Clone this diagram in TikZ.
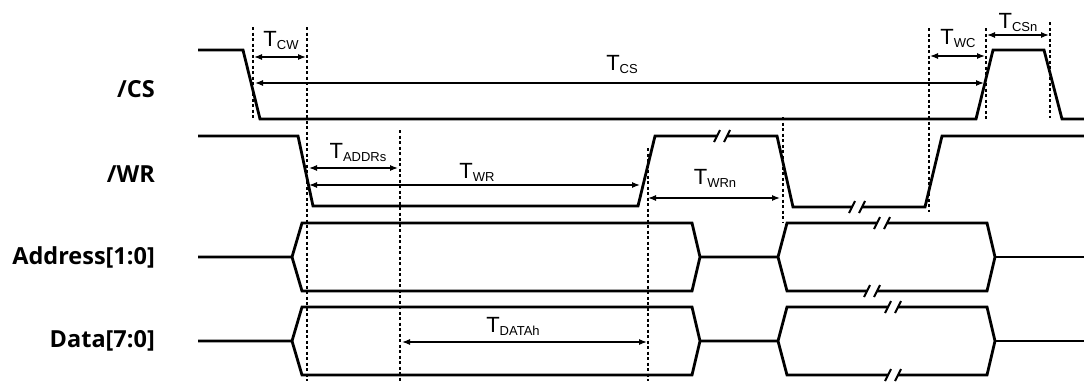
\documentclass[tikz,border=0pt]{standalone}
\usepackage{fontspec}
\setmainfont{Liberation Sans}
\newfontfamily\signame{Open Sans}
\usepackage{tikz}
\usetikzlibrary{arrows,arrows.meta,positioning}
\tikzstyle{sig} = [draw, line width=2.8pt, line join=miter]
\tikzstyle{dim} = [draw, {Latex[length=8pt,width=6pt]}-{Latex[length=8pt,width=6pt]}, line width=1.2pt]
\tikzstyle{guide} = [draw, line width=1.3pt, dash pattern=on 3pt off 2.5pt]
\tikzstyle{sname} = [anchor=east, inner sep=0pt, font=\signame\bfseries\fontsize{23.5}{24}\selectfont]
\tikzstyle{tlbl} = [inner sep=0pt, font=\fontsize{22}{22}\selectfont]
\newcommand{\tsb}[1]{T\raisebox{-3pt}{\fontsize{13}{13}\selectfont #1}}
\newcommand{\sigbreak}[2]{%
  \fill[white] (#1-5,#2-4) rectangle (#1+5,#2+4);
  \draw[line width=2pt] (#1-8,#2+6) -- (#1-2,#2-6);
  \draw[line width=2pt] (#1+2,#2+6) -- (#1+8,#2-6);}

\begin{document}
\begin{tikzpicture}[x=1pt,y=-1pt]
		\useasboundingbox (0,0) rectangle (1084,381);
		%\draw[help lines] (0,0) grid (1084,381);
		% signal names
		\node[sname] (cs) at (155,89) {/CS};
		\node[sname] (wr) at (155,174) {/WR};
		\node[sname] (addr) at (155,257) {Address[1:0]};
		\node[sname] (data) at (155,341) {Data[7:0]};
		% guide lines
		\draw[guide] (253,27) -- (253,119);
		\draw[guide] (307,27) -- (307,381);
		\draw[guide] (400,130) -- (400,381);
		\draw[guide] (648,148) -- (648,381);
		\draw[guide] (783,117) -- (783,222);
		\draw[guide] (929,28) -- (929,212);
		\draw[guide] (986,28) -- (986,120);
		\draw[guide] (1050,22) -- (1050,118);
		% /CS
		\draw[sig] (198,50) -- (243,50) -- (260,119) -- (976,119) -- (993,50)
			-- (1044,50) -- (1062,119) -- (1084,119);
		% /WR
		\draw[sig] (198,136) -- (298,136) -- (313,206) -- (638,206) -- (655,136)
			-- (777,136) -- (793,207) -- (925,207) -- (942,136) -- (1084,136);
		\sigbreak{722}{136}
		\sigbreak{857}{207}
		% Address[1:0]
		\draw[sig] (198,257) -- (292,257) -- (302,223) -- (692,223) -- (700,257)
			-- (692,291) -- (302,291) -- (292,257);
		\draw[sig] (700,257) -- (778,257) -- (787,223) -- (987,223) -- (995,257)
			-- (987,291) -- (787,291) -- (778,257);
		\draw[sig] (995,257) -- (1084,257);
		\sigbreak{882}{223}
		\sigbreak{872}{291}
		% Data[7:0]
		\draw[sig] (198,341) -- (292,341) -- (302,307) -- (692,307) -- (700,341)
			-- (692,375) -- (302,375) -- (292,341);
		\draw[sig] (700,341) -- (778,341) -- (787,307) -- (987,307) -- (995,341)
			-- (987,375) -- (787,375) -- (778,341);
		\draw[sig] (995,341) -- (1084,341);
		\sigbreak{893}{307}
		\sigbreak{893}{375}
		% timings
		\draw[dim] (254,57) -- (306,57);
		\node[tlbl] (tcw) at (281,40) {\tsb{CW}};
		\draw[dim] (255,83) -- (984,83);
		\node[tlbl] (tcs) at (622,64) {\tsb{CS}};
		\draw[dim] (930,56) -- (985,56);
		\node[tlbl] (twc) at (958,38) {\tsb{WC}};
		\draw[dim] (987,35) -- (1049,35);
		\node[tlbl] (tcsn) at (1018,22) {\tsb{CSn}};
		\draw[dim] (309,168) -- (398,168);
		\node[tlbl] (taddr) at (358,152) {\tsb{ADDRs}};
		\draw[dim] (309,185) -- (640,185);
		\node[tlbl] (twr) at (477,172) {\tsb{WR}};
		\draw[dim] (648,198) -- (780,198);
		\node[tlbl] (twrn) at (715,178) {\tsb{WRn}};
		\draw[dim] (402,342) -- (647,342);
		\node[tlbl] (tdata) at (513,326) {\tsb{DATAh}};
\end{tikzpicture}
\end{document}
